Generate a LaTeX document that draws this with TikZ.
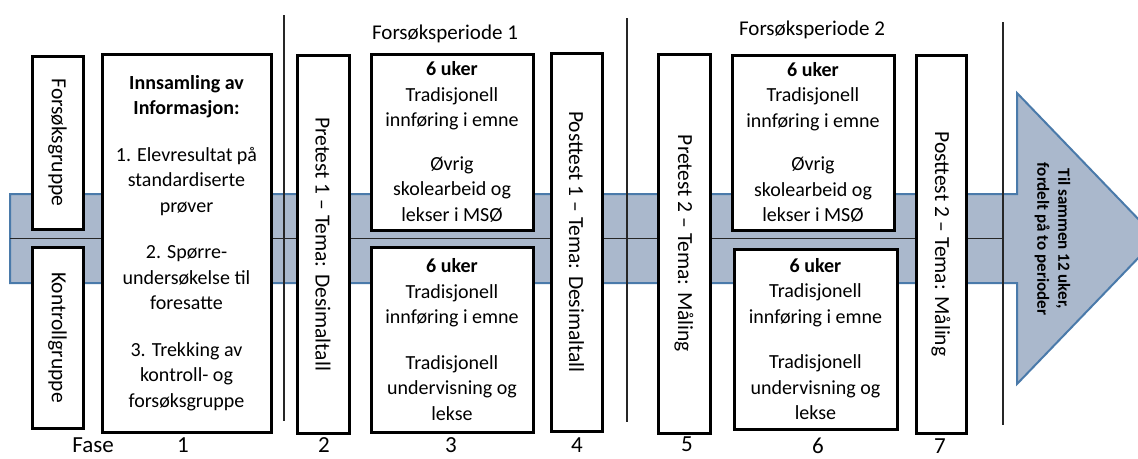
\documentclass[tikz,border=0pt]{standalone}
\usepackage{fontspec}
\setmainfont{Carlito}
\definecolor{bandfill}{RGB}{170,184,204}
\definecolor{bandline}{RGB}{74,122,170}
\begin{document}
\begin{tikzpicture}[x=1pt,y=-1pt,
  box/.style={draw=black, line width=3pt, fill=white, inner sep=0pt, align=center},
  vbox/.style={box, rotate=-90},
  bodytxt/.style={font=\fontsize{20}{25.5}\selectfont},
  vtxt/.style={font=\fontsize{21.5}{26}\selectfont},
  numlbl/.style={inner sep=0pt, font=\fontsize{23}{28}\selectfont},
  perlbl/.style={anchor=base, inner sep=0pt, font=\fontsize{21}{26}\selectfont},
  sepline/.style={line width=1.2pt, draw=black!85},
  midline/.style={line width=1.5pt, draw=black!85}]
\useasboundingbox (0,0) rectangle (1138,458);
\fill[white] (0,0) rectangle (1138,458);
% band with arrow head
\begin{scope}
\clip (0,0) rectangle (1138,458);
\draw[fill=bandfill, draw=bandline, line width=2pt, line join=miter]
  (10,194) -- (1017,194) -- (1017,93) -- (1157,238.5) -- (1017,384) -- (1017,283) -- (10,283) -- cycle;
\end{scope}
% middle line
\coordinate (mL) at (10,238.5);
\coordinate (mR) at (1003,238.5);
\draw[midline] (mL) -- (mR);
% separator lines
\coordinate (s1t) at (284,15);  \coordinate (s1b) at (284,421);
\coordinate (s2t) at (627,18);  \coordinate (s2b) at (627,422);
\coordinate (s3t) at (1003,22); \coordinate (s3b) at (1003,425);
\draw[sepline] (s1t) -- (s1b);
\draw[sepline] (s2t) -- (s2b);
\draw[sepline] (s3t) -- (s3b);
% group boxes
\node[vbox, vtxt, minimum width=173pt, minimum height=51pt] (fg) at (57.5,142.5) {Forsøksgruppe};
\node[vbox, vtxt, minimum width=181pt, minimum height=51pt] (kg) at (57.5,337.5) {Kontrollgruppe};
% phase 1
\node[box, bodytxt, minimum width=169pt, minimum height=378pt] (b1) at (186.5,243)
  {\textbf{Innsamling av}\\\textbf{Informasjon:}\\[21pt]
   1. Elevresultat på\\standardiserte\\prøver\\[21pt]
   2. Spørre-\\undersøkelse til\\foresatte\\[21pt]
   3. Trekking av\\kontroll- og\\forsøksgruppe};
% phase 2
\node[vbox, vtxt, minimum width=378pt, minimum height=52pt] (p1) at (323,244) {Pretest 1 – Tema: Desimaltall};
% phase 3
\node[box, bodytxt, minimum width=162pt, minimum height=176pt] (b3t) at (452,142)
  {\textbf{6 uker}\\Tradisjonell\\innføring i emne\\[18pt]Øvrig\\skolearbeid og\\lekser i MSØ};
\node[box, bodytxt, minimum width=162pt, minimum height=185pt] (b3b) at (452,339.5)
  {\textbf{6 uker}\\Tradisjonell\\innføring i emne\\[20pt]Tradisjonell\\undervisning og\\lekse};
% phase 4
\node[vbox, vtxt, minimum width=378pt, minimum height=51pt] (q1) at (576.5,242) {Posttest 1 – Tema: Desimaltall};
% phase 5
\node[vbox, vtxt, minimum width=379pt, minimum height=52pt] (p2) at (684,243.5) {Pretest 2 – Tema: Måling};
% phase 6
\node[box, bodytxt, minimum width=162pt, minimum height=175pt] (b6t) at (813,142.5)
  {\textbf{6 uker}\\Tradisjonell\\innføring i emne\\[18pt]Øvrig\\skolearbeid og\\lekser i MSØ};
\node[box, bodytxt, minimum width=163pt, minimum height=180pt] (b6b) at (815.5,339)
  {\textbf{6 uker}\\Tradisjonell\\innføring i emne\\[20pt]Tradisjonell\\undervisning og\\lekse};
% phase 7
\node[vbox, vtxt, minimum width=378pt, minimum height=50pt] (q2) at (941,244) {Posttest 2 – Tema: Måling};
% arrow text
\node[rotate=-90, align=center, font=\bfseries\fontsize{17}{21}\selectfont] (arr) at (1052.5,239)
  {Til sammen 12 uker,\\fordelt på to perioder};
% period labels
\node[perlbl] (fp1) at (445,39.5) {Forsøksperiode 1};
\node[perlbl] (fp2) at (812,35) {Forsøksperiode 2};
% phase numbers
\node[numlbl] (fase) at (93,445) {Fase};
\node[numlbl] (n1) at (183,445) {1};
\node[numlbl] (n2) at (324,445) {2};
\node[numlbl] (n3) at (451,445) {3};
\node[numlbl] (n4) at (577,445) {4};
\node[numlbl] (n5) at (687,444) {5};
\node[numlbl] (n6) at (818,446) {6};
\node[numlbl] (n7) at (940,446) {7};
\end{tikzpicture}
\end{document}
